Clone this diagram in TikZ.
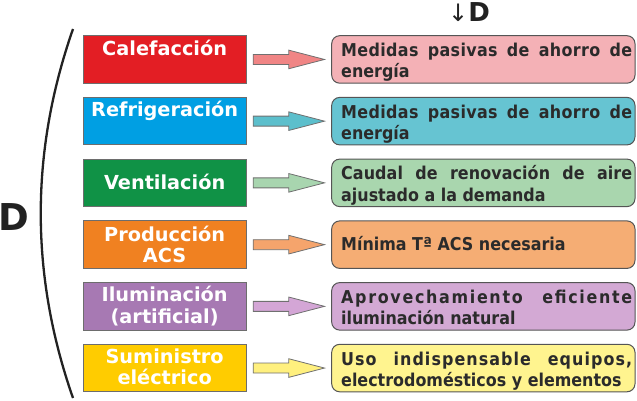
\documentclass[tikz,border=0pt]{standalone}
\usepackage{fontspec}
\setmainfont{DejaVu Sans}
\newfontfamily\condfont[FakeStretch=0.9]{DejaVu Sans}
\usetikzlibrary{calc}
\definecolor{lc1}{HTML}{E31E24}
\definecolor{lc2}{HTML}{009FE3}
\definecolor{lc3}{HTML}{109246}
\definecolor{lc4}{HTML}{F08121}
\definecolor{lc5}{HTML}{A779B3}
\definecolor{lc6}{HTML}{FFCC00}
\definecolor{ac1}{HTML}{F08585}
\definecolor{ac2}{HTML}{5CBFCC}
\definecolor{ac3}{HTML}{A8D5AF}
\definecolor{ac4}{HTML}{F5A46C}
\definecolor{ac5}{HTML}{D4A6D6}
\definecolor{ac6}{HTML}{FFF07E}
\definecolor{rc1}{HTML}{F4B1B6}
\definecolor{rc2}{HTML}{66C4D2}
\definecolor{rc3}{HTML}{A9D6AE}
\definecolor{rc4}{HTML}{F5AD74}
\definecolor{rc5}{HTML}{D3A9D4}
\definecolor{rc6}{HTML}{FFF48F}
\definecolor{lborder}{HTML}{6D6D6D}
\definecolor{rborder}{HTML}{555555}
\definecolor{aborder}{HTML}{707070}
\definecolor{rtxt}{HTML}{2B2B2B}
\definecolor{dark}{HTML}{222222}
\newcommand\blkarrow[3]{%
  \draw[barrow, fill=#3] ($(#1.east)+(6.7,-5)$) -- ($(#2.west)+(-42.4,-5)$)
    -- ($(#2.west)+(-42.4,-9.3)$) -- ($(#2.west)+(-6.7,0)$)
    -- ($(#2.west)+(-42.4,9.3)$) -- ($(#2.west)+(-42.4,5)$)
    -- ($(#1.east)+(6.7,5)$) -- cycle;}
\newcommand\firstline[2]{\makebox[291pt][s]{\addfontfeature{LetterSpace=#1}#2}}
\begin{document}
\begin{tikzpicture}[x=1pt,y=-1pt,
  lbox/.style={draw=lborder, line width=0.9pt, minimum width=162.7pt, minimum height=47.5pt, inner sep=0pt},
  rbox/.style={draw=rborder, line width=1pt, rounded corners=8pt, minimum width=303.3pt, minimum height=47.5pt, inner sep=0pt},
  ltext/.style={anchor=base, inner sep=0pt, text=white, font=\fontsize{19.3}{21.7}\selectfont\bfseries},
  rtext/.style={anchor=base west, inner sep=0pt, text=rtxt, font=\condfont\fontsize{17.7}{21.3}\selectfont\bfseries},
  barrow/.style={draw=aborder, line width=0.8pt, line join=miter}]
\useasboundingbox (0,0) rectangle (637,401);

% bracket and labels
\coordinate (bt) at (73,29);
\coordinate (bb) at (73,398);
\draw[line width=2.3pt, draw=dark] (bt) .. controls (30,152) and (30,275) .. (bb);
\node[anchor=base west, inner sep=0pt, text=dark, font=\fontsize{37}{37}\selectfont\bfseries] (bigD) at (-1.5,230) {D};
\node[anchor=base west, inner sep=0pt, text=dark, font=\fontsize{24}{24}\selectfont] (topD) at (448,21.5) {↓{\fontsize{26}{26}\selectfont\bfseries D}};

% left boxes
\node[lbox, fill=lc1] (l1) at (164.65,59.45) {};
\node[lbox, fill=lc2] (l2) at (164.65,121.15) {};
\node[lbox, fill=lc3] (l3) at (164.65,182.85) {};
\node[lbox, fill=lc4] (l4) at (164.65,244.65) {};
\node[lbox, fill=lc5] (l5) at (164.65,306.35) {};
\node[lbox, fill=lc6] (l6) at (164.65,368.05) {};

\node[ltext] (t1) at ($(l1.north)+(0,20)$) {Calefacción};
\node[ltext] (t2) at ($(l2.north)+(0,19.9)$) {Refrigeración};
\node[ltext] (t3) at ($(l3.north)+(0,30.5)$) {Ventilación};
\node[ltext] (t4) at ($(l4.north)+(0,20.7)$) {\parbox[t]{160pt}{\centering Producción\\ACS}};
\node[ltext] (t5) at ($(l5.north)+(0,19.8)$) {\parbox[t]{160pt}{\centering Iluminación\\(artificial)}};
\node[ltext] (t6) at ($(l6.north)+(0,19.2)$) {\parbox[t]{160pt}{\centering Suministro\\eléctrico}};

% right boxes
\node[rbox, fill=rc1] (r1) at (483.35,59.45) {};
\node[rbox, fill=rc2] (r2) at (483.35,121.15) {};
\node[rbox, fill=rc3] (r3) at (483.35,182.85) {};
\node[rbox, fill=rc4] (r4) at (483.35,244.65) {};
\node[rbox, fill=rc5] (r5) at (483.35,306.35) {};
\node[rbox, fill=rc6] (r6) at (483.35,368.05) {};

\node[rtext] (u1) at ($(r1.north west)+(9.8,21.3)$) {\parbox[t]{291pt}{\firstline{2}{Medidas pasivas de ahorro de}\\energía}};
\node[rtext] (u2) at ($(r2.north west)+(9.8,21.3)$) {\parbox[t]{291pt}{\firstline{2}{Medidas pasivas de ahorro de}\\energía}};
\node[rtext] (u3) at ($(r3.north west)+(9.8,21.3)$) {\parbox[t]{291pt}{\firstline{0.5}{Caudal de renovación de aire}\\ajustado a la demanda}};
\node[rtext] (u4) at ($(r4.north west)+(9.8,30.1)$) {Mínima Tª ACS necesaria};
\node[rtext] (u5) at ($(r5.north west)+(9.8,21.3)$) {\parbox[t]{291pt}{\firstline{9.5}{Aprovechamiento eficiente}\\iluminación natural}};
\node[rtext] (u6) at ($(r6.north west)+(9.8,21.3)$) {\parbox[t]{291pt}{\firstline{6}{Uso indispensable equipos,}\\electrodomésticos y elementos}};

% arrows
\blkarrow{l1}{r1}{ac1}
\blkarrow{l2}{r2}{ac2}
\blkarrow{l3}{r3}{ac3}
\blkarrow{l4}{r4}{ac4}
\blkarrow{l5}{r5}{ac5}
\blkarrow{l6}{r6}{ac6}
\end{tikzpicture}
\end{document}
